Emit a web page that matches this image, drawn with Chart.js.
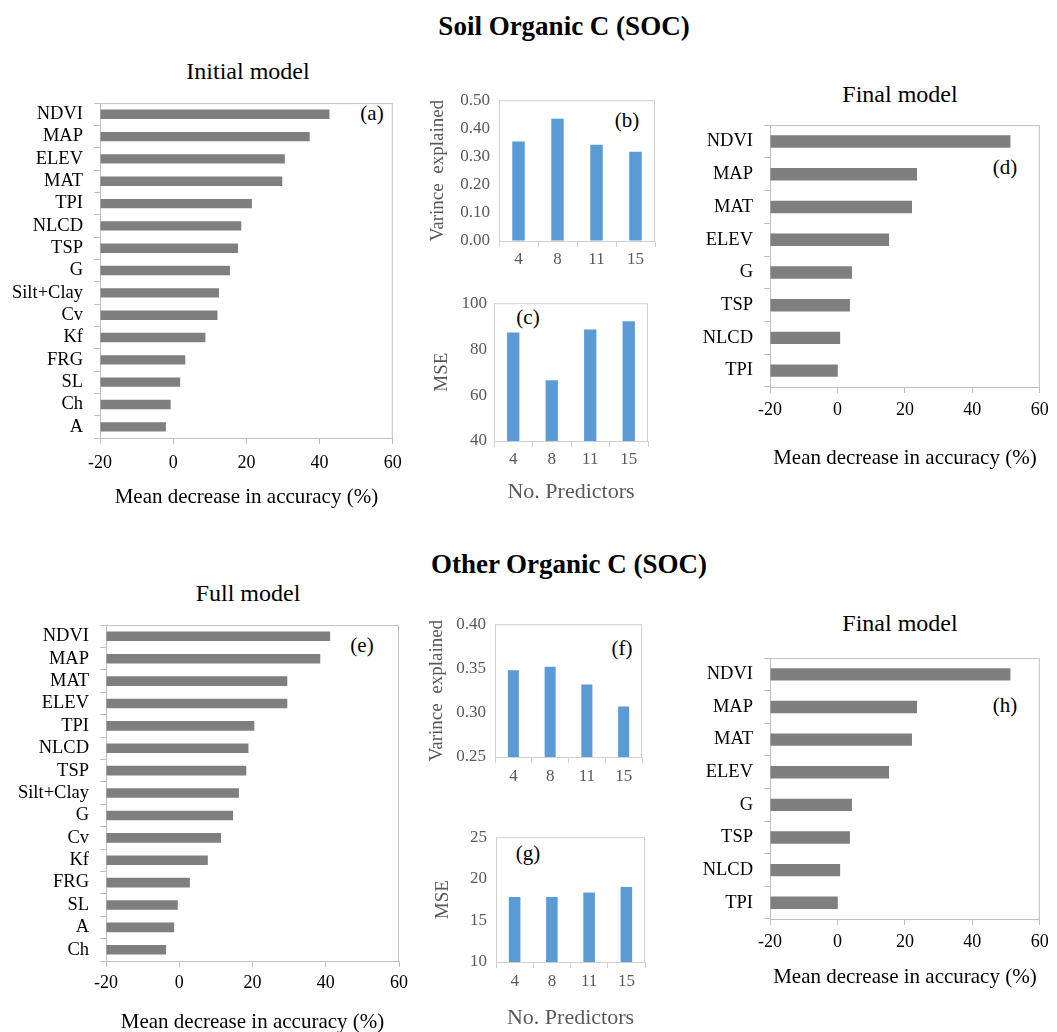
<!DOCTYPE html>
<html>
<head>
<meta charset="utf-8">
<script src="https://cdn.jsdelivr.net/npm/chart.js@4.4.4/dist/chart.umd.min.js"></script>
<style>
  body { margin: 0; background: #fff; width: 1057px; height: 1032px; position: relative; overflow: hidden;
         font-family: 'Liberation Serif', 'Times New Roman', serif; color: #000; }
  .t { position: absolute; white-space: pre; transform: translate(-50%, -50%); line-height: 1; }
  .main { font-weight: bold; font-size: 27px; }
  .sub { font-size: 24px; }
  .tag { font-size: 21px; }
</style>
</head>
<body>
<div class="t main" style="left:564px;top:26px">Soil Organic C (SOC)</div>
<div class="t main" style="left:569px;top:564px">Other Organic C (SOC)</div>
<div class="t sub" style="left:248px;top:71px">Initial model</div>
<div class="t sub" style="left:900px;top:94px">Final model</div>
<div class="t sub" style="left:248px;top:593px">Full model</div>
<div class="t sub" style="left:900px;top:623px">Final model</div>
<div class="t tag" style="left:372px;top:113px">(a)</div>
<div class="t tag" style="left:627px;top:120px">(b)</div>
<div class="t tag" style="left:528px;top:317px">(c)</div>
<div class="t tag" style="left:1005px;top:167px">(d)</div>
<div class="t tag" style="left:362px;top:645px">(e)</div>
<div class="t tag" style="left:622px;top:648px">(f)</div>
<div class="t tag" style="left:528px;top:853px">(g)</div>
<div class="t tag" style="left:1005px;top:705px">(h)</div>

<script>
// ─── Data ────────────────────────────────────────────────────────────────────

// Variable importance (mean decrease in accuracy, %)
const VARS_INITIAL = ['NDVI', 'MAP', 'ELEV', 'MAT', 'TPI', 'NLCD', 'TSP', 'G', 'Silt+Clay', 'Cv', 'Kf', 'FRG', 'SL', 'Ch', 'A'];
const IMP_INITIAL  = [42.7, 37.3, 30.5, 29.8, 21.5, 18.6, 17.7, 15.5, 12.5, 12.1, 8.8, 3.3, 1.9, -0.7, -2.0];

const VARS_FULL = ['NDVI', 'MAP', 'MAT', 'ELEV', 'TPI', 'NLCD', 'TSP', 'Silt+Clay', 'G', 'Cv', 'Kf', 'FRG', 'SL', 'A', 'Ch'];
const IMP_FULL  = [41.2, 38.5, 29.5, 29.5, 20.5, 18.9, 18.3, 16.3, 14.7, 11.4, 7.8, 2.9, -0.4, -1.4, -3.6];

const VARS_FINAL      = ['NDVI', 'MAP', 'MAT', 'ELEV', 'G', 'TSP', 'NLCD', 'TPI'];
const IMP_FINAL_SOC   = [51.3, 23.6, 22.1, 15.3, 4.3, 3.7, 0.8, 0.1];
const IMP_FINAL_OTHER = [51.3, 23.6, 22.1, 15.3, 4.3, 3.7, 0.8, 0.1];

// Model size comparison
const PREDICTORS  = ['4', '8', '11', '15'];
const VAR_SOC     = [0.353, 0.434, 0.342, 0.317];
const MSE_SOC     = [87.2, 66.4, 88.6, 92.1];
const VAR_OTHER   = [0.348, 0.352, 0.332, 0.307];
const MSE_OTHER   = [17.8, 17.8, 18.35, 19.0];

// Tick labels
const IMP_TICKS       = [-20, 0, 20, 40, 60];
const VAR_TICKS_SOC   = [0, 0.1, 0.2, 0.3, 0.4, 0.5];
const MSE_TICKS_SOC   = [40, 60, 80, 100];
const VAR_TICKS_OTHER = [0.25, 0.30, 0.35, 0.40];
const MSE_TICKS_OTHER = [10, 15, 20, 25];

// ─── Styles ──────────────────────────────────────────────────────────────────

const BAR_GRAY = '#7f7f7f';
const BAR_BLUE = '#5b9bd5';
const FRAME = '#bfbfbf';
const FRAME_SMALL = '#d0d0d0';
const TEXT_SMALL = '#595959';

Chart.defaults.font.family = "'Liberation Serif', 'Times New Roman', serif";
Chart.defaults.animation = false;
Chart.defaults.plugins.legend.display = false;
Chart.defaults.plugins.tooltip.enabled = false;

const framePlugin = {
    id: 'frame',
    beforeDatasetsDraw(chart, args, opts) {
        const { ctx, chartArea: { left, top, right, bottom } } = chart;
        ctx.save();
        ctx.strokeStyle = opts.color;
        ctx.lineWidth = 1;
        ctx.strokeRect(left + 0.5, top + 0.5, right - left - 1, bottom - top);
        ctx.restore();
    }
};

function makeCanvas(id, left, top, width, height) {
    const c = document.createElement('canvas');
    c.id = id;
    c.width = width;
    c.height = height;
    c.style.cssText = `position:absolute;left:${left}px;top:${top}px;width:${width}px;height:${height}px`;
    document.body.appendChild(c);
    return c;
}

const fixTicks = arr => s => { s.ticks = arr.map(v => ({ value: v })); };

// ─── Horizontal importance charts ────────────────────────────────────────────

function importanceChart(id, labels, values, g) {
    const ML = 100, PT = 12, PR = 15;
    const MB = g.titleY - g.b + 16;
    const tickSize = 18, titleSize = 21;
    const canvas = makeCanvas(id, g.l - ML, g.t - PT, g.r - g.l + ML + PR, g.b - g.t + PT + MB);
    new Chart(canvas, {
        type: 'bar',
        data: {
            labels,
            datasets: [{
                data: values,
                base: IMP_TICKS[0],
                backgroundColor: BAR_GRAY,
                barPercentage: g.bp,
                categoryPercentage: 1
            }]
        },
        options: {
            indexAxis: 'y',
            responsive: false,
            layout: { padding: { top: PT, right: PR, left: 0, bottom: 0 } },
            scales: {
                x: {
                    type: 'linear',
                    min: IMP_TICKS[0],
                    max: IMP_TICKS[IMP_TICKS.length - 1],
                    afterBuildTicks: fixTicks(IMP_TICKS),
                    afterFit: s => { s.height = MB; },
                    grid: { drawOnChartArea: false, tickLength: 6, color: FRAME, tickColor: FRAME },
                    border: { color: FRAME },
                    ticks: {
                        color: '#000', font: { size: tickSize }, maxRotation: 0, autoSkip: false,
                        padding: g.tickY - g.b - 6 - tickSize * 0.6
                    },
                    title: {
                        display: true, text: 'Mean decrease in accuracy (%)', color: '#000',
                        font: { size: titleSize },
                        padding: { top: 0, bottom: g.b + MB - titleSize * 0.6 - g.titleY }
                    }
                },
                y: {
                    afterFit: s => { s.width = ML; },
                    grid: { drawOnChartArea: false, tickLength: 6, color: FRAME, tickColor: FRAME, offset: true },
                    border: { color: FRAME },
                    ticks: { color: '#000', font: { size: 18.5 }, padding: 11, autoSkip: false }
                }
            },
            plugins: { frame: { color: FRAME } }
        },
        plugins: [framePlugin]
    });
}

// ─── Vertical predictor-count charts ─────────────────────────────────────────

function predictorChart(id, values, ticks, decimals, yTitle, g) {
    const ML = 80, PT = 12, PR = 15;
    const MB = g.titleY ? g.titleY - g.b + 18 : g.tickY - g.b + 20;
    const tickSize = 17, yTitleSize = 19, xTitleSize = 22;
    const canvas = makeCanvas(id, g.l - ML, g.t - PT, g.r - g.l + ML + PR, g.b - g.t + PT + MB);
    new Chart(canvas, {
        type: 'bar',
        data: {
            labels: PREDICTORS,
            datasets: [{
                data: values,
                backgroundColor: BAR_BLUE,
                barPercentage: g.bp,
                categoryPercentage: 1
            }]
        },
        options: {
            responsive: false,
            layout: { padding: { top: PT, right: PR, left: 0, bottom: 0 } },
            scales: {
                x: {
                    afterFit: s => { s.height = MB; },
                    grid: { drawOnChartArea: false, tickLength: 6, color: FRAME_SMALL, tickColor: FRAME_SMALL, offset: true },
                    border: { color: FRAME_SMALL },
                    ticks: {
                        color: TEXT_SMALL, font: { size: tickSize }, maxRotation: 0,
                        padding: g.tickY - g.b - 6 - tickSize * 0.6
                    },
                    title: g.titleY ? {
                        display: true, text: 'No. Predictors', color: TEXT_SMALL,
                        font: { size: xTitleSize },
                        padding: { top: 0, bottom: g.b + MB - xTitleSize * 0.6 - g.titleY }
                    } : { display: false }
                },
                y: {
                    min: ticks[0],
                    max: ticks[ticks.length - 1],
                    afterBuildTicks: fixTicks(ticks),
                    afterFit: s => { s.width = ML; },
                    grid: { drawOnChartArea: false, drawTicks: false, color: FRAME_SMALL },
                    border: { color: FRAME_SMALL },
                    ticks: {
                        color: TEXT_SMALL, font: { size: tickSize }, padding: g.yGap,
                        callback: v => Number(v).toFixed(decimals)
                    },
                    title: {
                        display: true, text: yTitle, color: TEXT_SMALL, font: { size: yTitleSize },
                        padding: { top: g.yTitleX - (g.l - ML) - yTitleSize * 0.6, bottom: 0 }
                    }
                }
            },
            plugins: { frame: { color: FRAME_SMALL } }
        },
        plugins: [framePlugin]
    });
}

// ─── Render ──────────────────────────────────────────────────────────────────

importanceChart('chart-a', VARS_INITIAL, IMP_INITIAL,
    { l: 100, t: 93, r: 395, b: 438, tickY: 463, titleY: 497, bp: 0.42 });
importanceChart('chart-d', VARS_FINAL, IMP_FINAL_SOC,
    { l: 770, t: 115, r: 1040, b: 387, tickY: 410, titleY: 458, bp: 0.38 });
importanceChart('chart-e', VARS_FULL, IMP_FULL,
    { l: 106, t: 615, r: 399, b: 961, tickY: 983, titleY: 1022, bp: 0.43 });
importanceChart('chart-h', VARS_FINAL, IMP_FINAL_OTHER,
    { l: 770, t: 648, r: 1040, b: 919, tickY: 942, titleY: 977, bp: 0.38 });

predictorChart('chart-b', VAR_SOC, VAR_TICKS_SOC, 2, 'Varince  explained',
    { l: 499, t: 93, r: 655, b: 241, tickY: 260, yTitleX: 438, yGap: 9, bp: 0.32 });
predictorChart('chart-c', MSE_SOC, MSE_TICKS_SOC, 0, 'MSE',
    { l: 494, t: 298, r: 648, b: 441, tickY: 460, titleY: 492, yTitleX: 442, yGap: 7, bp: 0.32 });
predictorChart('chart-f', VAR_OTHER, VAR_TICKS_OTHER, 2, 'Varince  explained',
    { l: 495, t: 617, r: 642, b: 757, tickY: 777, yTitleX: 437, yGap: 9, bp: 0.30 });
predictorChart('chart-g', MSE_OTHER, MSE_TICKS_OTHER, 0, 'MSE',
    { l: 496, t: 830, r: 645, b: 962, tickY: 982, titleY: 1018, yTitleX: 443, yGap: 9, bp: 0.31 });
</script>
</body>
</html>
